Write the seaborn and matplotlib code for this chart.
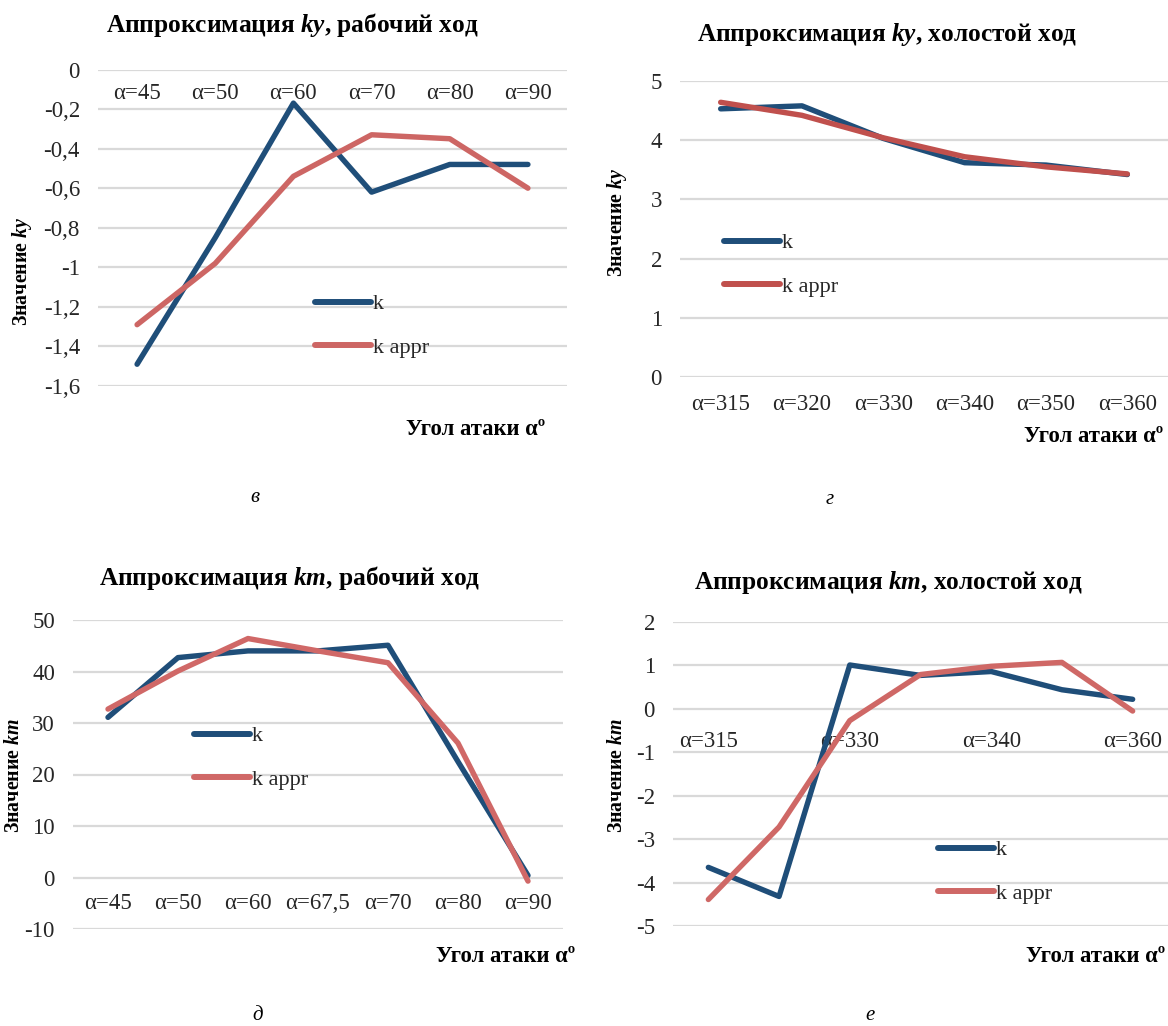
import matplotlib
matplotlib.use('Agg')
import numpy as np
import pandas as pd
import matplotlib.pyplot as plt
import seaborn as sns
from matplotlib.ticker import FuncFormatter

# ---------------- data ----------------
cats_ky_work = ['α=45', 'α=50', 'α=60', 'α=70', 'α=80', 'α=90']
ky_work_k = [-1.49, -0.85, -0.17, -0.62, -0.48, -0.48]
ky_work_appr = [-1.29, -0.98, -0.54, -0.33, -0.35, -0.60]

cats_ky_idle = ['α=315', 'α=320', 'α=330', 'α=340', 'α=350', 'α=360']
ky_idle_k = [4.53, 4.58, 4.03, 3.62, 3.58, 3.42]
ky_idle_appr = [4.64, 4.42, 4.04, 3.72, 3.55, 3.43]

cats_km_work = ['α=45', 'α=50', 'α=60', 'α=67,5', 'α=70', 'α=80', 'α=90']
km_work_k = [31.1, 42.7, 44.0, 44.0, 45.1, 22.5, 0.4]
km_work_appr = [32.7, 40.1, 46.4, 44.0, 41.7, 26.1, -0.7]

cats_km_idle = ['α=315', 'α=320', 'α=330', 'α=335', 'α=340', 'α=350', 'α=360']
km_idle_k = [-3.65, -4.32, 1.01, 0.77, 0.86, 0.44, 0.22]
km_idle_appr = [-4.39, -2.72, -0.27, 0.79, 0.98, 1.07, -0.05]

# ---------------- style ----------------
sns.set_theme(style='white')
plt.rcParams['font.family'] = ['Liberation Serif', 'DejaVu Serif']
plt.rcParams['mathtext.fontset'] = 'custom'
plt.rcParams['mathtext.it'] = 'Liberation Serif:italic:bold'
plt.rcParams['mathtext.rm'] = 'Liberation Serif:bold'

BLUE = '#1f4e79'
W, H = 1168, 1026
TICK_COLOR = '#262626'
TICK_SIZE = 16.5

fig = plt.figure(figsize=(W / 100, H / 100), dpi=100)


def px_axes(left, top, right, bottom):
    '''axes placed by pixel box'''
    return fig.add_axes([left / W, 1 - bottom / H, (right - left) / W, (bottom - top) / H])


def comma(v, pos):
    s = ('%g' % round(v, 6)).replace('.', ',')
    return '0' if s == '-0' else s


def panel(ax, cats, k, k_appr, ylim, step, red, xpad, every=1, leg_xy=(0, 0)):
    n = len(cats)
    df = pd.DataFrame({
        'pos': list(range(n)) * 2,
        'val': k + k_appr,
        'series': ['k'] * n + ['k appr'] * n,
    })
    sns.lineplot(data=df, x='pos', y='val', hue='series',
                 palette={'k': BLUE, 'k appr': red}, linewidth=3.9,
                 solid_capstyle='round', solid_joinstyle='round', ax=ax)

    ax.set_xlim(-0.5, n - 0.5)
    ax.set_ylim(*ylim)
    ax.set_yticks(np.arange(ylim[0], ylim[1] + step / 2, step))
    ax.yaxis.set_major_formatter(FuncFormatter(comma))
    ax.set_xticks(range(0, n, every))
    ax.set_xticklabels(cats[::every])
    ax.set_xlabel('')
    ax.set_ylabel('')

    # category labels sit next to the zero line
    for s in ax.spines.values():
        s.set_visible(False)
    ax.spines['bottom'].set_position(('data', 0))
    ax.tick_params(axis='x', length=0, pad=xpad, labelsize=TICK_SIZE, colors=TICK_COLOR)
    ax.tick_params(axis='y', length=0, pad=13, labelsize=TICK_SIZE, colors=TICK_COLOR)
    ax.yaxis.grid(True, color='#d9d9d9', linewidth=1.6)
    ax.xaxis.grid(False)
    ax.set_axisbelow(True)

    sns.move_legend(ax, 'center left', bbox_to_anchor=(leg_xy[0] / W, 1 - leg_xy[1] / H),
                    bbox_transform=fig.transFigure, title=None, frameon=False,
                    fontsize=16, handlelength=2.5, handletextpad=0.1,
                    labelspacing=1.05, borderpad=0, borderaxespad=0)
    for line in ax.get_legend().get_lines():
        line.set_linewidth(4.3)
        line.set_solid_capstyle('round')


# top left: ky, working stroke
ax1 = px_axes(98, 69.5, 567, 386)
panel(ax1, cats_ky_work, ky_work_k, ky_work_appr, (-1.6, 0), 0.2, '#cd6664', 10,
      leg_xy=(315, 326))

# top right: ky, idle stroke
ax2 = px_axes(680, 81, 1168, 377)
panel(ax2, cats_ky_idle, ky_idle_k, ky_idle_appr, (0, 5), 1, '#c0504d', 12,
      leg_xy=(724, 265))

# bottom left: km, working stroke
ax3 = px_axes(73, 620, 563, 929)
panel(ax3, cats_km_work, km_work_k, km_work_appr, (-10, 50), 10, '#d06867', 11,
      leg_xy=(194, 758))

# bottom right: km, idle stroke
ax4 = px_axes(673, 622, 1168, 926)
panel(ax4, cats_km_idle, km_idle_k, km_idle_appr, (-5, 2), 1, '#cf6866', 16,
      every=2, leg_xy=(938, 872))

# titles
titles = [
    (292, 25, 'Аппроксимация $ky$, рабочий ход'),
    (887, 35, 'Аппроксимация $ky$, холостой ход'),
    (290, 578, 'Аппроксимация $km$, рабочий ход'),
    (888, 583, 'Аппроксимация $km$, холостой ход'),
]
for x, y, t in titles:
    fig.text(x / W, 1 - y / H, t, ha='center', va='center',
             fontsize=18.3, fontweight='bold', color='black')

# y axis labels
ylabels = [
    (22, 271, 'Значение $ky$'),
    (617, 222, 'Значение $ky$'),
    (14, 775, 'Значение $km$'),
    (617, 775, 'Значение $km$'),
]
for x, y, t in ylabels:
    fig.text(x / W, 1 - y / H, t, ha='center', va='center', rotation=90,
             fontsize=14.3, fontweight='bold', color='black')

# x axis labels
xlabels = [(545, 430), (1163, 437), (575, 957), (1165, 957)]
for x, y in xlabels:
    fig.text(x / W, 1 - y / H, 'Угол атаки αº', ha='right', va='center',
             fontsize=16.3, fontweight='bold', color='black')

# sub-figure letters
letters = [(255, 497, 'в'), (830, 500, 'г'), (258, 1016, 'д'), (870, 1016, 'е')]
for x, y, t in letters:
    fig.text(x / W, 1 - y / H, t, ha='center', va='center',
             fontsize=15, fontstyle='italic', color='black')

fig.savefig('out.png', dpi=100, facecolor='white')
